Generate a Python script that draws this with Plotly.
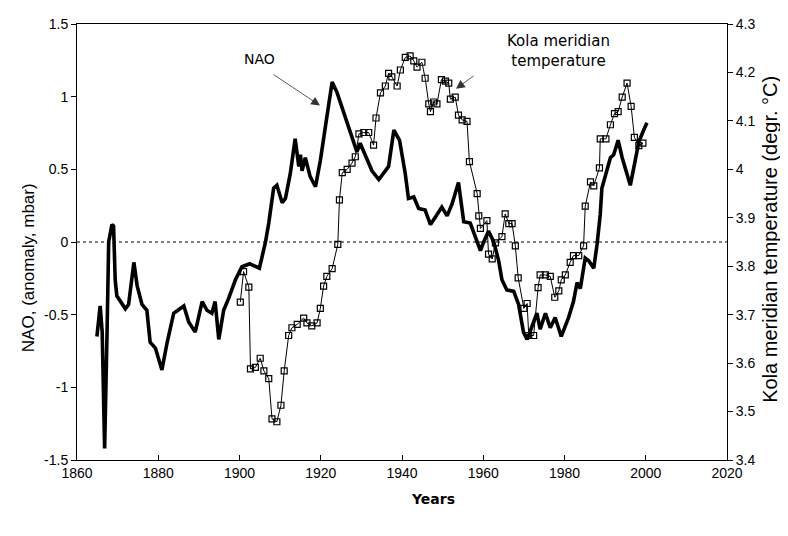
import plotly.graph_objects as go

# NAO index (smoothed), anomaly mbar
nao_years = [1864.9, 1865.7, 1866.2, 1866.4, 1866.8, 1867.4, 1867.8, 1868.6, 1869.0, 1869.4,
             1869.8, 1871.9, 1872.7, 1874.0, 1874.8, 1876.0, 1877.2, 1878.0, 1879.3, 1880.9,
             1882.2, 1883.8, 1886.3, 1887.5, 1889.1, 1890.8, 1892.0, 1893.2, 1894.0, 1894.9,
             1896.1, 1897.3, 1899.0, 1900.6, 1902.5, 1904.9, 1906.4, 1907.2, 1908.4, 1909.2,
             1910.5, 1911.3, 1912.5, 1913.7, 1914.6, 1915.0, 1915.4, 1916.2, 1917.4, 1918.7,
             1919.9, 1921.5, 1922.8, 1924.0, 1926.0, 1927.7, 1928.9, 1929.7, 1931.0, 1932.6,
             1934.3, 1935.9, 1936.7, 1938.0, 1939.4, 1940.8, 1941.6, 1942.9, 1944.1, 1945.7,
             1947.0, 1948.2, 1949.8, 1951.1, 1952.3, 1953.9, 1955.2, 1956.8, 1958.0, 1959.3,
             1960.1, 1961.3, 1962.6, 1963.8, 1964.6, 1965.8, 1967.5, 1968.7, 1969.9, 1970.8,
             1972.0, 1973.2, 1974.0, 1975.3, 1976.5, 1977.7, 1979.2, 1981.0, 1982.2, 1983.1,
             1983.9, 1985.1, 1986.0, 1987.2, 1988.0, 1988.8, 1989.2, 1990.0, 1991.3, 1992.1,
             1993.2, 1994.2, 1996.2, 1997.4, 1998.3, 1999.5, 2000.3]
nao_values = [-0.65, -0.44, -0.62, -0.86, -1.42, -0.62, 0.00, 0.12, 0.11, -0.26,
              -0.37, -0.46, -0.43, -0.14, -0.30, -0.43, -0.47, -0.69, -0.73, -0.88,
              -0.69, -0.49, -0.44, -0.55, -0.62, -0.41, -0.47, -0.49, -0.41, -0.67,
              -0.47, -0.39, -0.26, -0.17, -0.15, -0.18, 0.00, 0.13, 0.37, 0.39,
              0.27, 0.30, 0.47, 0.71, 0.52, 0.60, 0.49, 0.58, 0.45, 0.38,
              0.56, 0.86, 1.10, 1.03, 0.86, 0.71, 0.62, 0.68, 0.60, 0.49,
              0.43, 0.49, 0.52, 0.77, 0.70, 0.47, 0.30, 0.31, 0.23, 0.22,
              0.12, 0.17, 0.24, 0.18, 0.26, 0.41, 0.14, 0.13, 0.04, -0.06,
              0.00, 0.075, 0.00, -0.13, -0.26, -0.33, -0.34, -0.43, -0.62, -0.67,
              -0.58, -0.49, -0.60, -0.49, -0.59, -0.52, -0.65, -0.52, -0.41, -0.28,
              -0.32, -0.11, -0.13, -0.18, -0.02, 0.19, 0.37, 0.45, 0.58, 0.60,
              0.70, 0.58, 0.39, 0.56, 0.69, 0.77, 0.82]

# Kola meridian temperature, degr. C
kola_years = [1900.2, 1901.0, 1902.3, 1902.7, 1903.9, 1905.1, 1906.0, 1907.2, 1908.0, 1909.2,
              1910.2, 1911.0, 1912.1, 1912.9, 1914.2, 1915.8, 1916.6, 1917.8, 1919.1, 1919.9,
              1920.7, 1921.5, 1922.8, 1924.2, 1924.6, 1925.3, 1926.5, 1927.7, 1928.5, 1929.4,
              1930.6, 1931.8, 1933.0, 1933.6, 1934.7, 1935.9, 1936.7, 1937.5, 1938.8, 1939.6,
              1940.8, 1942.0, 1942.9, 1943.7, 1944.9, 1945.7, 1946.6, 1947.0, 1947.8, 1948.6,
              1949.7, 1950.7, 1951.5, 1951.9, 1953.1, 1953.9, 1954.8, 1956.0, 1956.6, 1958.5,
              1958.9, 1959.3, 1960.9, 1961.3, 1962.2, 1963.0, 1964.6, 1965.4, 1966.3, 1967.1,
              1967.9, 1968.6, 1970.0, 1970.8, 1971.2, 1972.4, 1973.5, 1974.0, 1975.3, 1976.5,
              1977.6, 1978.6, 1979.2, 1980.2, 1981.4, 1982.2, 1983.5, 1984.7, 1985.1, 1986.4,
              1987.2, 1988.6, 1988.8, 1990.2, 1991.3, 1992.3, 1993.2, 1994.2, 1995.4, 1996.4,
              1997.2, 1998.3, 1999.3]
kola_values = [3.726, 3.789, 3.757, 3.588, 3.591, 3.610, 3.584, 3.568, 3.485, 3.479,
               3.513, 3.584, 3.657, 3.673, 3.680, 3.693, 3.683, 3.677, 3.683, 3.713,
               3.759, 3.779, 3.795, 3.845, 3.937, 3.993, 4.000, 4.013, 4.026, 4.073,
               4.076, 4.076, 4.050, 4.106, 4.158, 4.172, 4.198, 4.191, 4.172, 4.205,
               4.231, 4.234, 4.224, 4.211, 4.221, 4.188, 4.135, 4.119, 4.139, 4.135,
               4.185, 4.182, 4.178, 4.145, 4.149, 4.112, 4.102, 4.099, 4.016, 3.950,
               3.904, 3.878, 3.894, 3.825, 3.815, 3.848, 3.861, 3.908, 3.888, 3.888,
               3.842, 3.776, 3.713, 3.723, 3.657, 3.657, 3.756, 3.782, 3.782, 3.779,
               3.736, 3.749, 3.772, 3.782, 3.808, 3.822, 3.822, 3.842, 3.924, 3.974,
               3.966, 4.003, 4.063, 4.063, 4.092, 4.115, 4.119, 4.149, 4.178, 4.130,
               4.066, 4.049, 4.054]

x_ticks = [1860, 1880, 1900, 1920, 1940, 1960, 1980, 2000, 2020]
left_tickvals = [-1.5, -1, -0.5, 0, 0.5, 1, 1.5]
left_ticktext = ["-1.5", "-1", "-0.5", "0", "0.5", "1", "1.5"]
right_tickvals = [3.4, 3.5, 3.6, 3.7, 3.8, 3.9, 4.0, 4.1, 4.2, 4.3]
right_ticktext = ["3.4", "3.5", "3.6", "3.7", "3.8", "3.9", "4", "4.1", "4.2", "4.3"]

tick_font = dict(family="Liberation Sans, Arial, sans-serif", size=14, color="black")

fig = go.Figure()
fig.add_trace(go.Scatter(x=kola_years, y=kola_values, yaxis="y2", mode="lines+markers",
                         line=dict(color="black", width=1),
                         marker=dict(symbol="square-open", size=6, color="black",
                                     line=dict(width=1.2, color="black")),
                         showlegend=False))
fig.add_trace(go.Scatter(x=nao_years, y=nao_values, mode="lines",
                         line=dict(color="black", width=3.6), showlegend=False))

fig.add_shape(type="line", xref="paper", yref="y", x0=0, x1=1, y0=0, y1=0,
              line=dict(color="black", width=1, dash="dot"))

# page body has an 8px margin, so the figure is drawn 8px right/down
fig.update_layout(
    width=780, height=528,
    margin=dict(l=69, r=61, t=8, b=76),
    paper_bgcolor="white", plot_bgcolor="white",
    xaxis=dict(range=[1860, 2020], tickvals=x_ticks, ticks="inside", ticklen=5,
               showline=True, linecolor="black", linewidth=1, mirror=True,
               showgrid=False, zeroline=False, tickfont=tick_font, tickcolor="black"),
    yaxis=dict(range=[-1.5, 1.5], tickvals=left_tickvals, ticktext=left_ticktext,
               ticks="outside", ticklen=5, showline=True, linecolor="black", linewidth=1,
               showgrid=False, zeroline=False, tickfont=tick_font, tickcolor="black",
               ticklabeloverflow="allow"),
    yaxis2=dict(range=[3.4, 4.3], tickvals=right_tickvals, ticktext=right_ticktext,
                overlaying="y", side="right", ticks="outside", ticklen=5,
                showline=True, linecolor="black", linewidth=1,
                showgrid=False, zeroline=False, tickfont=tick_font, tickcolor="black",
                ticklabeloverflow="allow"),
)

title_font = dict(family="Liberation Sans, Arial, sans-serif", size=17, color="black")
label_font = dict(family="DejaVu Sans, sans-serif", size=14, color="black")

fig.add_annotation(text="NAO, (anomaly, mbar)", xref="paper", yref="paper", x=0, y=0.44,
                   xshift=-49, textangle=-90, showarrow=False, font=title_font,
                   xanchor="center", yanchor="middle")
fig.add_annotation(text="Kola meridian temperature (degr. °C)", xref="paper", yref="paper",
                   x=1, y=0.505, xshift=43, textangle=-90, showarrow=False,
                   font=dict(family="Liberation Sans, Arial, sans-serif", size=20, color="black"),
                   xanchor="center", yanchor="middle")
fig.add_annotation(text="<b>Years</b>", xref="paper", yref="paper", x=0.548, y=-0.09,
                   showarrow=False, font=label_font, xanchor="center", yanchor="middle")

# Series labels with arrows (positions given as page pixels of the reference)
fig.add_annotation(text="NAO", xref="paper", yref="paper", x=(260 - 77) / 650,
                   y=(460 - 52) / 444, showarrow=False, font=label_font,
                   xanchor="center", yanchor="middle")
fig.add_annotation(text="", xref="paper", yref="paper", x=(320 - 77) / 650, y=(460 - 99) / 444,
                   ax=-48, ay=-32, axref="pixel", ayref="pixel", showarrow=True,
                   arrowhead=2, arrowsize=2.2, arrowwidth=0.8, arrowcolor="#333333")
fig.add_annotation(text="Kola meridian<br>temperature", xref="paper", yref="paper",
                   x=(558 - 77) / 650, y=(460 - 44) / 444, showarrow=False,
                   font=dict(family="DejaVu Sans, sans-serif", size=15, color="black"),
                   xanchor="center", yanchor="middle")
fig.add_annotation(text="", xref="paper", yref="paper", x=(456 - 77) / 650, y=(460 - 82) / 444,
                   ax=19, ay=-14, axref="pixel", ayref="pixel", showarrow=True,
                   arrowhead=2, arrowsize=2.2, arrowwidth=0.8, arrowcolor="#333333")

fig.write_html("out.html")
